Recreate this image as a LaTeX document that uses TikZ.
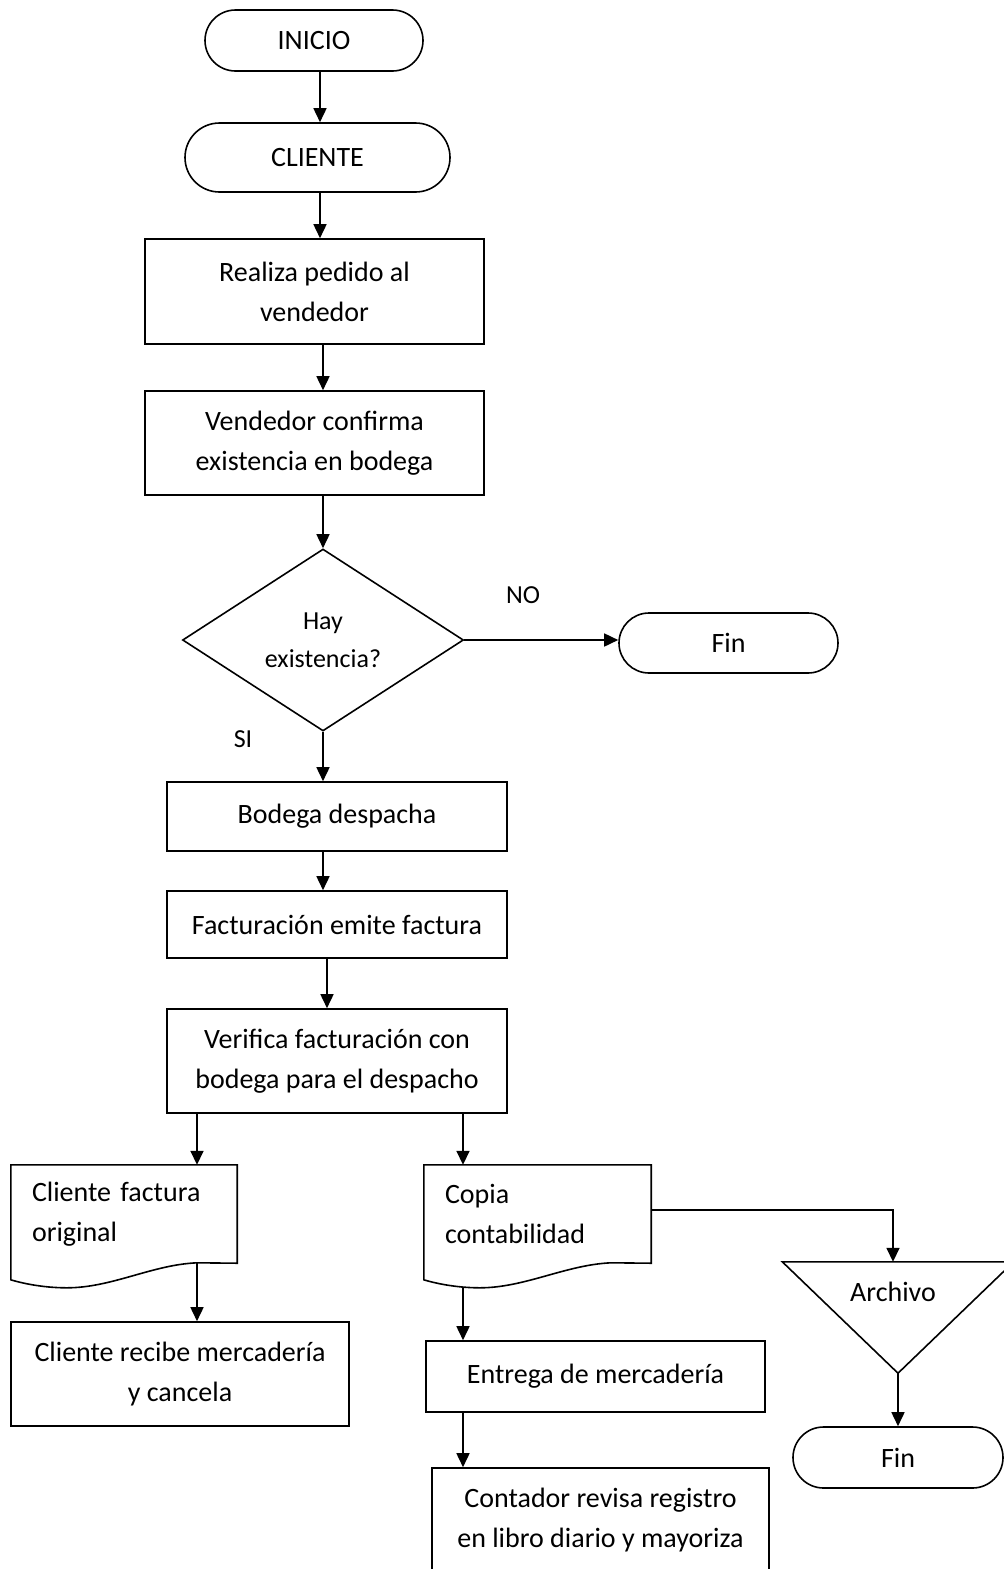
\documentclass[tikz,border=0pt]{standalone}
\usepackage{fontspec}
\setmainfont{Carlito}
\usetikzlibrary{arrows.meta,shapes.misc,shapes.geometric}
\begin{document}
\begin{tikzpicture}[x=1pt,y=-1pt,
  txt/.style={font=\fontsize{28}{40}\selectfont},
  small/.style={font=\fontsize{26}{38}\selectfont},
  outline/.style={draw=black,line width=1.6pt},
  flow/.style={line width=1.6pt,line join=miter},
  arr/.style={flow,-{Triangle[length=14pt,width=13pt]}},
  stepbox/.style={txt,outline,rectangle,inner sep=0pt,align=center},
  term/.style={txt,outline,rounded rectangle,inner sep=0pt},
  decision/.style={small,outline,diamond,inner sep=0pt,align=center},
  docbody/.style={txt,rectangle,inner sep=0pt,align=left},
  label/.style={small,inner sep=0pt}
]
\useasboundingbox (0,0) rectangle (1004,1569);
\clip (0,0) rectangle (1004,1569);

% main column
\node[term, minimum width=218pt, minimum height=61pt] (inicio) at (314,40.5) {INICIO};
\node[term, minimum width=265pt, minimum height=69pt] (cliente) at (317.5,157.5) {CLIENTE};
\node[stepbox, minimum width=339pt, minimum height=105pt] (pedido) at (314.5,291.5) {Realiza pedido al\\vendedor};
\node[stepbox, minimum width=339pt, minimum height=104pt] (confirma) at (314.5,443) {Vendedor confirma\\existencia en bodega};
\node[decision, minimum width=281pt, minimum height=182pt] (hay) at (323,640) {Hay\\existencia?};
\node[term, minimum width=219pt, minimum height=60pt] (fin1) at (728.5,643) {Fin};
\node[label] (no) at (523,595) {NO};
\node[label] (si) at (243,739) {SI};
\node[stepbox, minimum width=340pt, minimum height=69pt] (despacha) at (337,816.5) {Bodega despacha};
\node[stepbox, minimum width=340pt, minimum height=67pt] (factura) at (337,924.5) {Facturación emite factura};
\node[stepbox, minimum width=340pt, minimum height=104pt] (verifica) at (337,1061) {Verifica facturación con\\bodega para el despacho};

% left branch
\node[docbody, minimum width=226pt, minimum height=98pt, text width=184pt] (doc1) at (124,1214) {Cliente factura\\original};
\draw[outline,line join=miter] (doc1.north west) -- ++(0,115)
  .. controls +(10,3) and +(-25,0) .. ++(56,8)
  .. controls +(45,0) and +(-45,2) .. ++(130,-25)
  -- (doc1.south east) -- (doc1.north east) -- cycle;
\node[stepbox, minimum width=338pt, minimum height=104pt] (recibe) at (180,1374) {Cliente recibe mercadería\\y cancela};

% middle branch
\node[docbody, minimum width=227pt, minimum height=98pt, text width=185pt] (doc2) at (537.5,1214) {Copia\\contabilidad};
\draw[outline,line join=miter] (doc2.north west) -- ++(0,115)
  .. controls +(10,3) and +(-25,0) .. ++(56,8)
  .. controls +(45,0) and +(-45,2) .. ++(131,-25)
  -- (doc2.south east) -- (doc2.north east) -- cycle;
\node[stepbox, minimum width=339pt, minimum height=71pt] (entrega) at (595.5,1376.5) {Entrega de mercadería};
\node[stepbox, minimum width=337pt, minimum height=104pt] (contador) at (600.5,1520) {Contador revisa registro\\en libro diario y mayoriza};

% right branch
\node[minimum width=231pt, minimum height=111pt, inner sep=0pt] (archivo) at (898,1317.5) {};
\draw[outline,line join=miter] (archivo.north west) -- (archivo.north east) -- (archivo.south) -- cycle;
\node[txt, inner sep=0pt] (archivotxt) at (893,1292) {Archivo};
\node[term, minimum width=210pt, minimum height=61pt] (fin2) at (898,1457.5) {Fin};

% vertical lanes of the connectors
\coordinate (laneA) at (320,0);
\coordinate (laneB) at (323,0);
\coordinate (laneC) at (327,0);
\coordinate (laneL) at (197,0);
\coordinate (laneM) at (463,0);
\coordinate (laneR) at (893,0);

% connectors
\draw[arr] (inicio.south -| laneA) -- (cliente.north -| laneA);
\draw[arr] (cliente.south -| laneA) -- (pedido.north -| laneA);
\draw[arr] (pedido.south -| laneB) -- (confirma.north -| laneB);
\draw[arr] (confirma.south -| laneB) -- (hay.north);
\draw[arr] (hay.east) -- (hay.east -| fin1.west);
\draw[arr] (hay.south) -- (despacha.north -| hay.south);
\draw[arr] (despacha.south -| laneB) -- (factura.north -| laneB);
\draw[arr] (factura.south -| laneC) -- (verifica.north -| laneC);
\draw[arr] (verifica.south -| laneL) -- (doc1.north -| laneL);
\draw[arr] (verifica.south -| laneM) -- (doc2.north -| laneM);
\draw[arr] (doc1.south -| laneL) -- (recibe.north -| laneL);
\draw[arr] ([yshift=-24pt]doc2.south -| laneM) -- (entrega.north -| laneM);
\draw[arr] (entrega.south -| laneM) -- (contador.north -| laneM);
\draw[arr] ([yshift=4pt]doc2.east) -| (archivo.north -| laneR);
\draw[arr] (archivo.south) -- (fin2.north);
\end{tikzpicture}
\end{document}
